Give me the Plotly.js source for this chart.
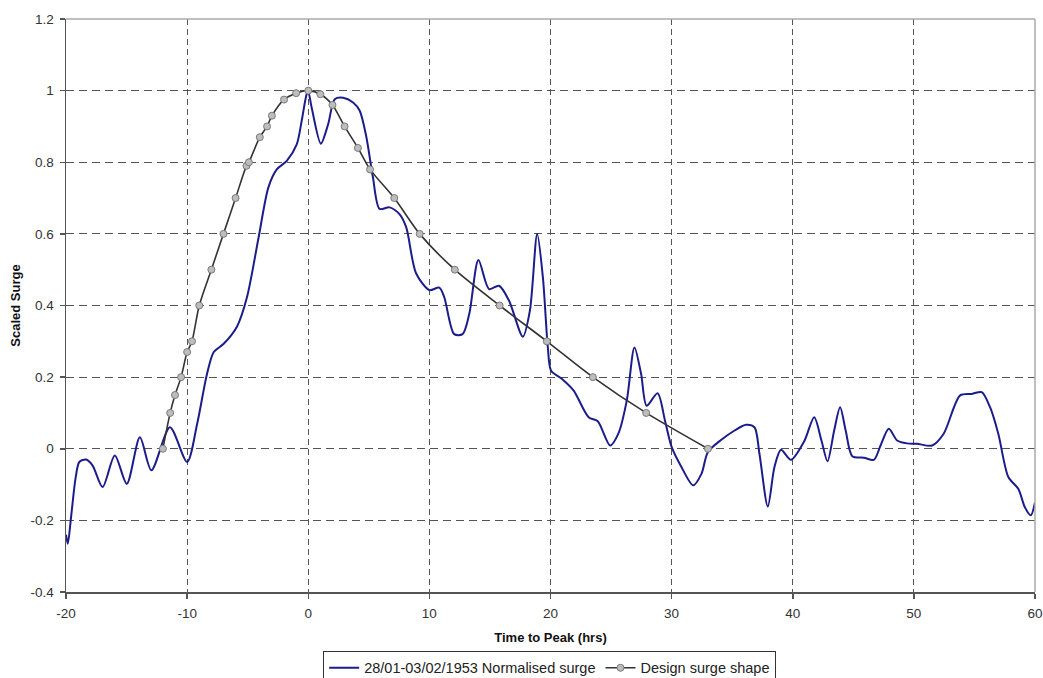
<!DOCTYPE html>
<html>
<head>
<meta charset="utf-8">
<script src="https://cdn.plot.ly/plotly-3.0.1.min.js"></script>
<style>
html,body{margin:0;padding:0;background:#fff;}
#chart{width:1043px;height:678px;}
</style>
</head>
<body>
<div id="chart"></div>
<script>
// Observed normalised surge 28/01-03/02/1953
const surgeHours = [-20, -19.85, -19.58, -19.2, -18.9, -18.35, -17.8, -16.98, -15.97, -14.98, -13.9, -12.95, -11.42, -10.0, -9.17, -8.35, -7.8, -6.98, -5.9, -5.06, -4.1, -3.29, -2.6, -1.77, -0.95, -0.54, -0.13, 0.0, 0.28, 1.04, 1.64, 2.19, 2.88, 3.7, 4.25, 4.8, 5.34, 5.89, 6.71, 7.53, 8.09, 8.9, 10.0, 10.82, 11.23, 12.05, 12.74, 13.29, 14.05, 14.93, 15.75, 16.57, 17.72, 18.3, 18.9, 19.37, 19.78, 20.05, 20.95, 21.9, 23.15, 23.9, 24.93, 25.6, 26.3, 26.93, 27.48, 27.94, 28.84, 29.45, 30.0, 30.81, 31.78, 32.46, 33.0, 34.1, 35.2, 36.15, 36.84, 37.25, 37.94, 38.49, 39.03, 39.85, 40.95, 41.77, 42.37, 42.87, 43.42, 43.91, 44.37, 44.92, 45.88, 46.7, 47.25, 47.93, 48.62, 49.44, 50.26, 51.5, 52.46, 53.82, 54.78, 55.6, 56.29, 56.97, 57.8, 58.62, 59.16, 59.65, 60.0];
const surgeValues = [-0.24, -0.265, -0.19, -0.08, -0.037, -0.03, -0.047, -0.107, -0.019, -0.098, 0.032, -0.06, 0.06, -0.037, 0.07, 0.21, 0.27, 0.293, 0.34, 0.423, 0.59, 0.73, 0.78, 0.804, 0.85, 0.916, 0.99, 0.997, 0.953, 0.852, 0.906, 0.976, 0.98, 0.967, 0.944, 0.87, 0.758, 0.67, 0.674, 0.655, 0.618, 0.49, 0.443, 0.45, 0.423, 0.32, 0.32, 0.376, 0.527, 0.446, 0.455, 0.414, 0.313, 0.386, 0.60, 0.479, 0.283, 0.218, 0.195, 0.163, 0.088, 0.077, 0.009, 0.042, 0.135, 0.283, 0.209, 0.12, 0.155, 0.079, 0.005, -0.051, -0.102, -0.07, -0.009, 0.025, 0.051, 0.067, 0.06, -0.014, -0.161, -0.051, -0.003, -0.031, 0.021, 0.088, 0.023, -0.035, 0.051, 0.116, 0.051, -0.021, -0.025, -0.031, 0.009, 0.056, 0.023, 0.015, 0.014, 0.009, 0.042, 0.149, 0.153, 0.158, 0.116, 0.042, -0.079, -0.112, -0.163, -0.186, -0.15];

// Design surge shape
const designHours = [-12, -11.4, -11, -10.5, -10, -9.6, -9, -8, -7, -6, -5.1, -4.9, -4, -3.4, -3, -2, -1, 0, 1, 2, 3, 4.1, 5.1, 7.1, 9.2, 12.1, 15.8, 19.7, 23.5, 27.9, 33];
const designValues = [0, 0.1, 0.15, 0.2, 0.27, 0.3, 0.4, 0.5, 0.6, 0.7, 0.79, 0.8, 0.87, 0.9, 0.93, 0.975, 0.993, 1, 0.99, 0.96, 0.9, 0.84, 0.78, 0.7, 0.6, 0.5, 0.4, 0.3, 0.2, 0.1, 0];

const xTicks = [-20, -10, 0, 10, 20, 30, 40, 50, 60];
const yTicks = [-0.4, -0.2, 0, 0.2, 0.4, 0.6, 0.8, 1, 1.2];
const yTickLabels = ['-0.4', '-0.2', '0', '0.2', '0.4', '0.6', '0.8', '1', '1.2'];
const seriesNames = ['28/01-03/02/1953 Normalised surge', 'Design surge shape'];

const traces = [
  {
    x: surgeHours, y: surgeValues, name: seriesNames[0],
    type: 'scatter', mode: 'lines',
    line: {color: '#1c1c8a', width: 2, shape: 'spline', smoothing: 0.8}
  },
  {
    x: designHours, y: designValues, name: seriesNames[1],
    type: 'scatter', mode: 'lines+markers',
    line: {color: '#333333', width: 1.6, shape: 'spline', smoothing: 0.8},
    marker: {symbol: 'circle', size: 7, color: '#bdbdbd', line: {color: '#7a7a7a', width: 1}}
  }
];

const layout = {
  width: 1043, height: 678,
  margin: {l: 66, r: 8, t: 19, b: 86, autoexpand: false},
  paper_bgcolor: '#ffffff', plot_bgcolor: '#ffffff',
  font: {family: 'Liberation Sans, Arial, sans-serif', size: 13, color: '#333'},
  showlegend: true,
  legend: {
    orientation: 'h', xref: 'container', yref: 'container',
    x: 0.527, xanchor: 'center', y: 0.04, yanchor: 'top',
    bordercolor: '#333', borderwidth: 1, bgcolor: '#fff',
    font: {size: 14.5, color: '#222'}, itemwidth: 30, tracegroupgap: 0
  },
  xaxis: {
    range: [-20, 60], tickvals: xTicks, ticktext: xTicks.map(String),
    showgrid: true, gridcolor: '#555', griddash: '6px,4px', gridwidth: 1,
    zeroline: false, showline: true, linecolor: '#555', linewidth: 1.5,
    ticks: 'outside', ticklen: 5, tickcolor: '#555', tickwidth: 1.5,
    ticklabeloverflow: 'allow', automargin: false, ticklabelstandoff: 3,
    tickfont: {size: 13.5, color: '#333'},
    title: {text: '<b>Time to Peak (hrs)</b>', font: {size: 13, color: '#111'}, standoff: 13}
  },
  yaxis: {
    range: [-0.4, 1.2], tickvals: yTicks, ticktext: yTickLabels,
    showgrid: true, gridcolor: '#555', griddash: '8px,5px', gridwidth: 1,
    zeroline: false, showline: true, linecolor: '#555', linewidth: 1.5,
    ticks: 'outside', ticklen: 5, tickcolor: '#555', tickwidth: 1.5,
    automargin: false, ticklabelstandoff: 3,
    tickfont: {size: 13.5, color: '#333'},
    title: {text: '<b>Scaled Surge</b>', font: {size: 13, color: '#111'}, standoff: 7}
  },
  shapes: [
    {type: 'line', xref: 'paper', yref: 'paper', x0: 0, x1: 1, y0: 1, y1: 1, line: {color: '#aaaaaa', width: 1.5}},
    {type: 'line', xref: 'paper', yref: 'paper', x0: 1, x1: 1, y0: 0, y1: 1, line: {color: '#aaaaaa', width: 1.5}}
  ]
};

Plotly.newPlot('chart', traces, layout, {displayModeBar: false, staticPlot: true});
</script>
</body>
</html>
